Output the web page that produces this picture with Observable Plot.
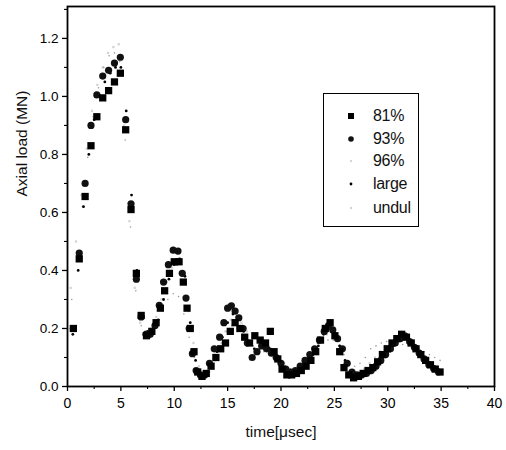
<!DOCTYPE html>
<html>
<head>
<meta charset="utf-8">
<script src="https://cdn.jsdelivr.net/npm/d3@7"></script>
<script src="https://cdn.jsdelivr.net/npm/@observablehq/plot@0.6"></script>
<style>
  html, body { margin: 0; padding: 0; background: #fff; }
  #wrap { position: relative; width: 506px; height: 450px; font-family: "Liberation Sans", Arial, sans-serif; }
  #legend { position: absolute; left: 323px; top: 93px; width: 94px; height: 132px; border: 1.5px solid #000; background: #fff; }
  .row { position: absolute; left: 0; height: 20px; display: flex; align-items: center; font-size: 16px; color: #111; letter-spacing: -0.3px; }
  .row svg { position: absolute; left: 20px; }
  .row span { position: absolute; left: 49px; white-space: nowrap; }
</style>
</head>
<body>
<div id="wrap"></div>
<script>
// ---- data ----
const seriesNames = ["81%", "93%", "96%", "large", "undul"];

const t81 = [0.55,1.1,1.65,2.2,2.75,3.3,3.85,4.4,4.95,5.45,5.95,6.45,6.9,7.4,7.9,8.3,8.7,9.1,9.55,10.0,10.45,10.85,11.2,11.5,11.85,12.2,12.6,13.0,13.45,13.9,14.35,14.8,15.25,15.7,16.15,16.6,17.05,17.55,18.05,18.55,19.0,19.35,19.7,20.1,20.55,21.0,21.45,21.9,22.35,22.8,23.25,23.7,24.15,24.6,25.05,25.5,25.9,26.35,26.8,27.25,27.7,28.15,28.6,29.05,29.5,29.95,30.4,30.85,31.3,31.75,32.2,32.65,33.1,33.55,34.0,34.45,34.9];
const v81 = [0.2,0.44,0.655,0.83,0.93,0.995,1.02,1.05,1.08,0.885,0.61,0.39,0.245,0.175,0.19,0.22,0.27,0.33,0.39,0.43,0.43,0.36,0.27,0.2,0.12,0.05,0.035,0.045,0.07,0.1,0.13,0.15,0.19,0.22,0.2,0.17,0.15,0.175,0.16,0.15,0.19,0.12,0.095,0.06,0.04,0.04,0.045,0.055,0.07,0.09,0.12,0.16,0.2,0.22,0.175,0.12,0.065,0.04,0.03,0.035,0.045,0.055,0.065,0.085,0.11,0.13,0.15,0.165,0.18,0.17,0.15,0.13,0.11,0.09,0.075,0.06,0.05];

const t93 = [0.55,1.1,1.65,2.2,2.75,3.3,3.85,4.4,4.95,5.45,5.95,6.45,6.9,7.35,7.75,8.2,8.6,9.0,9.45,9.9,10.35,10.75,11.1,11.4,11.7,12.05,12.45,12.85,13.3,13.75,14.25,14.65,15.0,15.35,15.7,16.05,16.45,16.85,17.3,17.75,18.2,18.65,19.1,19.55,20.0,20.45,20.9,21.35,21.8,22.25,22.7,23.15,23.6,24.05,24.45,24.85,25.3,25.75,26.2,26.65,27.1,27.55,28.0,28.45,28.9,29.35,29.8,30.25,30.7,31.15,31.6,32.05,32.5,32.95,33.4,33.85,34.3,34.75];
const v93 = [0.2,0.46,0.70,0.90,1.005,1.07,1.09,1.115,1.135,0.92,0.63,0.37,0.24,0.18,0.18,0.21,0.28,0.36,0.42,0.47,0.467,0.39,0.305,0.2,0.113,0.055,0.04,0.04,0.08,0.13,0.17,0.22,0.27,0.278,0.26,0.237,0.2,0.15,0.1,0.12,0.14,0.13,0.115,0.1,0.08,0.06,0.05,0.055,0.07,0.09,0.11,0.13,0.16,0.19,0.21,0.195,0.165,0.13,0.08,0.05,0.04,0.04,0.045,0.055,0.07,0.09,0.11,0.13,0.15,0.165,0.175,0.155,0.135,0.115,0.095,0.075,0.062,0.05];

const t96 = [0.3,0.8,1.3,1.8,2.3,2.8,3.3,3.8,4.3,4.8,5.3,5.8,6.3,6.8,7.3,7.8,8.3,8.8,9.3,9.8,10.3,10.8,11.3,11.8,12.3,12.8,13.3,13.8,14.3,14.8,15.3,15.8,16.3,16.8,17.3,17.8,18.3,18.8,19.3,19.8,20.3,20.8,21.3,21.8,22.3,22.8,23.3,23.8,24.3,24.8,25.3,25.8,26.3,26.8,27.3,27.8,28.3,28.8,29.3,29.8,30.3,30.8,31.3,31.8,32.3,32.8,33.3,33.8,34.3,34.8];
const v96 = [0.34,0.5,0.66,0.82,0.95,1.04,1.1,1.15,1.17,1.18,0.9,0.57,0.34,0.22,0.19,0.2,0.24,0.3,0.36,0.41,0.42,0.36,0.26,0.15,0.07,0.04,0.05,0.09,0.14,0.19,0.23,0.24,0.22,0.19,0.17,0.16,0.15,0.14,0.12,0.1,0.08,0.06,0.05,0.06,0.08,0.1,0.13,0.16,0.18,0.19,0.16,0.11,0.07,0.05,0.05,0.06,0.08,0.1,0.12,0.14,0.15,0.16,0.16,0.15,0.14,0.12,0.1,0.08,0.07,0.06];

const tLarge = [0.5,1.0,1.5,2.0,2.5,3.0,3.5,4.0,4.5,5.0,5.5,6.0,6.5,7.0,7.5,8.0,8.5,9.0,9.5,10.0,10.5,11.0,11.5,12.0,12.5,13.0,13.5,14.0,14.5,15.0,15.5,16.0,16.5,17.0,17.5,18.0,18.5,19.0,19.5,20.0,20.5,21.0,21.5,22.0,22.5,23.0,23.5,24.0,24.5,25.0,25.5,26.0,26.5,27.0,27.5,28.0,28.5,29.0,29.5,30.0,30.5,31.0,31.5,32.0,32.5,33.0,33.5,34.0,34.5,35.0];
const vLarge = [0.18,0.4,0.62,0.8,0.92,1.0,1.05,1.08,1.1,1.1,0.95,0.66,0.4,0.25,0.19,0.19,0.23,0.3,0.37,0.42,0.44,0.38,0.22,0.09,0.04,0.04,0.07,0.12,0.17,0.22,0.25,0.23,0.19,0.15,0.13,0.14,0.15,0.13,0.11,0.08,0.06,0.05,0.05,0.06,0.08,0.11,0.14,0.18,0.2,0.19,0.14,0.09,0.05,0.04,0.04,0.05,0.06,0.08,0.1,0.12,0.14,0.16,0.17,0.16,0.14,0.12,0.1,0.08,0.06,0.05];

const tUndul = [0.4,0.9,1.4,1.9,2.4,2.9,3.4,3.9,4.4,4.9,5.4,5.9,6.4,6.9,7.4,7.9,8.4,8.9,9.4,9.9,10.4,10.9,11.4,11.9,12.4,12.9,13.4,13.9,14.4,14.9,15.4,15.9,16.4,16.9,17.4,17.9,18.4,18.9,19.4,19.9,20.4,20.9,21.4,21.9,22.4,22.9,23.4,23.9,24.4,24.9,25.4,25.9,26.4,26.9,27.4,27.9,28.4,28.9,29.4,29.9,30.4,30.9,31.4,31.9,32.4,32.9,33.4,33.9,34.4,34.9];
const vUndul = [0.3,0.45,0.62,0.79,0.93,1.03,1.1,1.14,1.15,1.12,0.85,0.55,0.33,0.21,0.18,0.2,0.23,0.27,0.3,0.32,0.31,0.25,0.17,0.1,0.06,0.05,0.07,0.11,0.15,0.19,0.21,0.2,0.18,0.16,0.14,0.13,0.12,0.11,0.1,0.08,0.07,0.06,0.06,0.07,0.09,0.11,0.13,0.15,0.16,0.16,0.14,0.11,0.08,0.07,0.08,0.1,0.13,0.14,0.15,0.155,0.155,0.15,0.145,0.14,0.135,0.13,0.12,0.11,0.1,0.09];

const xTicks = [0,5,10,15,20,25,30,35,40];
const xMinor = [2.5,7.5,12.5,17.5,22.5,27.5,32.5,37.5];
const yTicks = [0.0,0.2,0.4,0.6,0.8,1.0,1.2];
const yMinor = [0.1,0.3,0.5,0.7,0.9,1.1,1.3];
const xTitle = "time[\u03bcsec]";
const yTitle = "Axial load (MN)";

// ---- build tables ----
function table(ts, vs) {
  const n = Math.min(ts.length, vs.length);
  const out = [];
  for (let i = 0; i < n; i++) out.push({t: ts[i], v: vs[i]});
  return out;
}
const d81 = table(t81, v81), d93 = table(t93, v93), d96 = table(t96, v96);
const dLarge = table(tLarge, vLarge), dUndul = table(tUndul, vUndul);

const style = {
  "81%":   {symbol: "square", r: 4.1, fill: "#000"},
  "93%":   {symbol: "circle", r: 3.6, fill: "#111"},
  "96%":   {symbol: "square", r: 1.3, fill: "#d4d4d4"},
  "large": {symbol: "circle", r: 1.4, fill: "#000"},
  "undul": {symbol: "circle", r: 0.8, fill: "#9a9a9a"}
};
const legendR = {"81%": 3.4, "93%": 2.8, "96%": 1.2, "large": 1.4, "undul": 0.8};

const plot = Plot.plot({
  width: 506,
  height: 450,
  marginLeft: 67,
  marginRight: 12,
  marginTop: 6,
  marginBottom: 64,
  style: {fontFamily: "'Liberation Sans', Arial, sans-serif", background: "#fff", color: "#000"},
  x: {domain: [0, 40]},
  y: {domain: [0, 1.31]},
  marks: [
    Plot.dot(d96, {x: "t", y: "v", ...style["96%"], stroke: "none"}),
    Plot.dot(dUndul, {x: "t", y: "v", ...style["undul"], stroke: "none"}),
    Plot.dot(dLarge, {x: "t", y: "v", ...style["large"], stroke: "none"}),
    Plot.dot(d93, {x: "t", y: "v", ...style["93%"], stroke: "none"}),
    Plot.dot(d81, {x: "t", y: "v", ...style["81%"], stroke: "none"}),
    Plot.axisX({ticks: xTicks, tickSize: 5, tickPadding: 7, fontSize: 14, tickFormat: d3.format("d"), label: null, strokeWidth: 1.3}),
    Plot.axisX({ticks: xMinor, tickSize: 3, tickFormat: () => "", label: null, strokeWidth: 1.1}),
    Plot.axisY({ticks: yTicks, tickSize: 5, tickPadding: 4, fontSize: 13.5, tickFormat: d3.format(".1f"), label: null, strokeWidth: 1.3}),
    Plot.axisY({ticks: yMinor.filter(d => d < 1.31), tickSize: 3, tickFormat: () => "", label: null, strokeWidth: 1.1}),
    Plot.text([xTitle], {frameAnchor: "bottom", dy: 50, fontSize: 15.5, text: d => d, fill: "#111"}),
    Plot.text([yTitle], {frameAnchor: "left", dx: -45, rotate: -90, fontSize: 15.5, text: d => d, fill: "#111"}),
    Plot.frame({stroke: "#000", strokeWidth: 1.8})
  ]
});

const wrap = document.getElementById("wrap");
wrap.appendChild(plot);

// ---- legend ----
const legend = document.createElement("div");
legend.id = "legend";
const rowTops = [12, 35, 57, 80, 104];
seriesNames.forEach((name, i) => {
  const row = document.createElement("div");
  row.className = "row";
  row.style.top = rowTops[i] + "px";
  const st = style[name];
  const sym = d3.create("svg").attr("width", 14).attr("height", 14);
  const s = st.symbol === "square" ? d3.symbolSquare : d3.symbolCircle;
  const r = legendR[name];
  sym.append("path").attr("transform", "translate(7,7)").attr("d", d3.symbol(s, Math.PI * r * r)()).attr("fill", st.fill);
  row.appendChild(sym.node());
  const sp = document.createElement("span");
  sp.textContent = name;
  row.appendChild(sp);
  legend.appendChild(row);
});
wrap.appendChild(legend);
</script>
</body>
</html>
